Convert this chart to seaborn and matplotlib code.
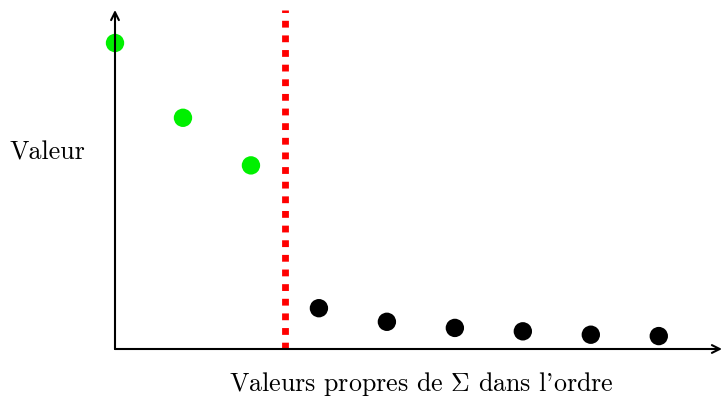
import matplotlib
matplotlib.use("Agg")
import matplotlib.pyplot as plt
import seaborn as sns
import pandas as pd

rang = [0, 1, 2, 3, 4, 5, 6, 7, 8]
valeurs = [9.0, 6.8, 5.4, 1.2, 0.8, 0.62, 0.52, 0.42, 0.38]
groupe = ["retenue", "retenue", "retenue", "autre", "autre", "autre", "autre", "autre", "autre"]
couleurs = {"retenue": "#00f000", "autre": "black"}
seuil = 2.5

sns.set_theme(style="white")
plt.rcParams["font.family"] = ["cmr10", "DejaVu Serif"]
plt.rcParams["mathtext.fontset"] = "cm"

df = pd.DataFrame({"rang": rang, "valeur": valeurs, "groupe": groupe})

fig = plt.figure(figsize=(7.25, 4.0), dpi=100)
ax = fig.add_axes([115 / 725, 1 - 349 / 400, (722 - 115) / 725, (349 - 10) / 400])
ax.set_xlim(0, 8.93)
ax.set_ylim(0, 9.97)
ax.axvline(seuil, color="#ff0000", lw=4.9, dashes=(1.0, 1.15), zorder=1)
sns.scatterplot(data=df, x="rang", y="valeur", hue="groupe", palette=couleurs,
                s=175, edgecolor="none", legend=False, ax=ax, zorder=3, clip_on=False)
for sp in ax.spines.values():
    sp.set_visible(False)
ax.set_xticks([])
ax.set_yticks([])
ax.set_xlabel("")
ax.set_ylabel("")
ax.patch.set_alpha(0)
arr = dict(arrowstyle="->", lw=1.5, color="black", mutation_scale=14, shrinkA=0, shrinkB=0)
ax.annotate("", xy=(1.0, 0), xytext=(0, 0), xycoords="axes fraction", arrowprops=arr)
ax.annotate("", xy=(0, 1.0), xytext=(0, 0), xycoords="axes fraction", arrowprops=arr)

fig.text(47 / 725, 1 - 153 / 400, "Valeur", ha="center", va="center",
         fontsize=18.7, color="black")
fig.text(421 / 725, 1 - 384 / 400, "Valeurs propres de $\\Sigma$ dans l'ordre",
         ha="center", va="center", fontsize=18.7, color="black")

fig.savefig("out.png", dpi=100)
